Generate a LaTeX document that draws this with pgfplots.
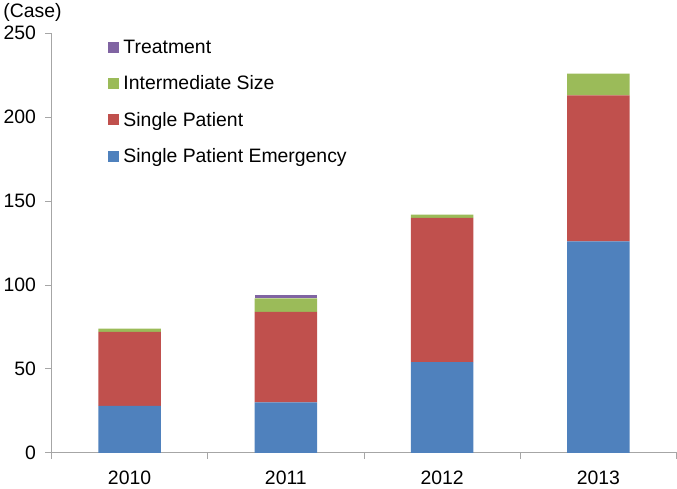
\documentclass[border=0pt]{standalone}
\usepackage{pgfplots}
\pgfplotsset{compat=1.18}
\usepackage{fontspec}
\setmainfont{Liberation Sans}

\definecolor{cblue}{HTML}{4F81BD}
\definecolor{cred}{HTML}{C0504D}
\definecolor{cgreen}{HTML}{9BBB59}
\definecolor{cpurple}{HTML}{8064A2}
\definecolor{axisgrey}{HTML}{A6A6A6}

\begin{document}
\begin{tikzpicture}
\begin{axis}[
    scale only axis,
    width=626bp, height=420bp,
    ybar stacked,
    bar width=62.6bp,
    xmin=-0.5, xmax=3.5,
    ymin=0, ymax=250,
    xtick={0,1,2,3},
    xticklabels={2010,2011,2012,2013},
    minor xtick={-0.5,0.5,1.5,2.5,3.5},
    ytick={0,50,100,150,200,250},
    axis x line=bottom, axis y line=left,
    axis line style={axisgrey, line width=0.8bp, -},
    major x tick style={draw=none},
    minor x tick style={axisgrey, line width=0.8bp},
    y tick style={axisgrey, line width=0.8bp},
    tick align=outside,
    major tick length=6bp, minor tick length=6bp,
    tick label style={font=\fontsize{19.5}{22}\selectfont, text=black},
    /pgf/number format/assume math mode=true,
    yticklabel style={xshift=-6bp},
    xticklabel style={yshift=-9bp},
    legend style={at={(0.091,0.99)}, anchor=north west, draw=none, fill=none,
        font=\fontsize{19.5}{22}\selectfont, row sep=17bp, inner sep=0pt,
        nodes={inner xsep=4bp}},
    legend cell align=left,
    reverse legend,
    legend image code/.code={\fill[#1] (0bp,-5.5bp) rectangle (11bp,5.5bp);},
    clip=false,
]
\addplot[fill=cblue, draw=none] coordinates {(0,28) (1,30) (2,54) (3,126)};
\addlegendentry{Single Patient Emergency}
\addplot[fill=cred, draw=none] coordinates {(0,44) (1,54) (2,86) (3,87)};
\addlegendentry{Single Patient}
\addplot[fill=cgreen, draw=none] coordinates {(0,2) (1,8) (2,2) (3,13)};
\addlegendentry{Intermediate Size}
\addplot[fill=cpurple, draw=none] coordinates {(0,0) (1,2) (2,0) (3,0)};
\addlegendentry{Treatment}
\node[font=\fontsize{19.5}{22}\selectfont] at ([xshift=-19bp,yshift=21bp]rel axis cs:0,1) {(Case)};
\end{axis}
\end{tikzpicture}
\end{document}
